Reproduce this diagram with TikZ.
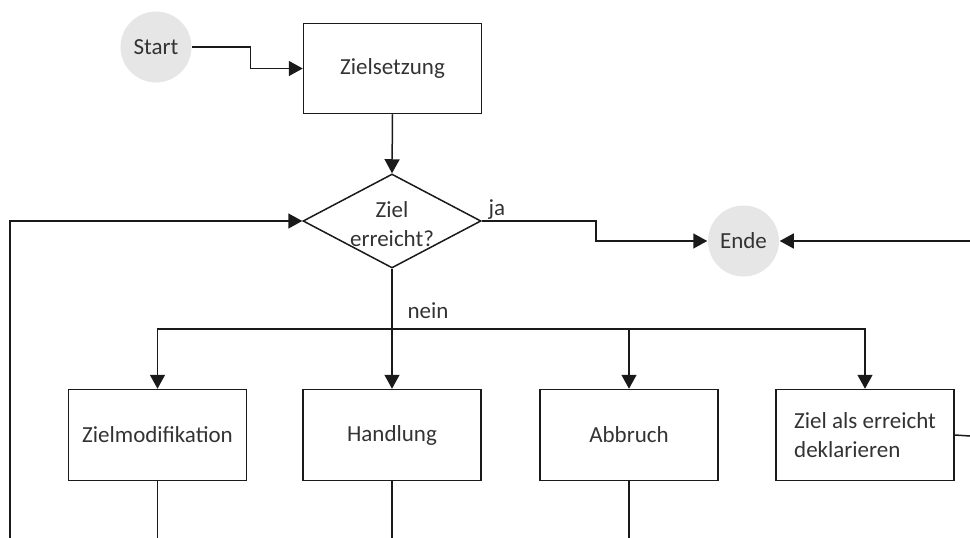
\documentclass[tikz,border=0pt]{standalone}
\usepackage{fontspec}
\setmainfont{Carlito}
\usetikzlibrary{arrows.meta,shapes.geometric}
\definecolor{ln}{HTML}{1A1A1A}
\definecolor{txt}{HTML}{333333}
\definecolor{circ}{HTML}{E6E6E6}
\begin{document}
\begin{tikzpicture}[x=1pt,y=-1pt,
  font=\fontsize{23}{29}\selectfont,
  line width=1.5pt,
  every node/.style={text=txt},
  term/.style={circle, fill=circ, minimum size=71pt, inner sep=0pt},
  box/.style={draw=ln, minimum width=178pt, minimum height=91pt, inner sep=2pt, align=left},
  dia/.style={diamond, draw=ln, minimum width=178pt, minimum height=94pt, aspect=1.9, inner sep=0pt},
  conn/.style={draw=ln},
  arr/.style={draw=ln, -{Triangle[length=14pt,width=15pt]}}]
\useasboundingbox (0,0) rectangle (970,538);

\node[term] (start) at (156,47) {Start};
\node[box, minimum height=90pt] (ziel) at (392.5,68.5) {Zielsetzung};
\node[dia] (dec) at (392,221) {};
\node[align=center] (dect) at (392,224) {Ziel\\erreicht?};
\node[term] (ende) at (743.5,241) {Ende};

\node[box] (zm) at (157.5,435) {Zielmodifikation};
\node[box] (hd) at (392,435) {Handlung};
\node[box] (ab) at (629,435) {Abbruch};
\node[box] (dk) at (865,435) {Ziel als erreicht\\deklarieren};

\node (ja) at (497,210) {ja};
\node (nein) at (428,311) {nein};

\coordinate (rin) at (970,241);
\coordinate (rout) at (970,436);
\coordinate (lb) at (10,538);
\coordinate (split) at (392,329);
\coordinate (zmb) at (157.5,538);
\coordinate (hdb) at (392,538);
\coordinate (abb) at (629,538);

\draw[arr] (start.east) -- ++(58,0) |- (ziel.west);
\draw[arr] (ziel.south) -- (dec.north);
\draw[arr] (dec.east) -- ++(114,0) |- (ende.west);
\draw[arr] (rin) -- (ende.east);
\draw[arr] (lb) |- (dec.west);
\draw[conn] (dec.south) -- (split);
\draw[arr] (split) -| (zm.north);
\draw[arr] (split) -- (hd.north);
\draw[arr] (split) -| (ab.north);
\draw[arr] (split) -| (dk.north);
\draw[conn] (zm.south) -- (zmb);
\draw[conn] (hd.south) -- (hdb);
\draw[conn] (ab.south) -- (abb);
\draw[conn] (dk.east) -- (rout);
\end{tikzpicture}
\end{document}
